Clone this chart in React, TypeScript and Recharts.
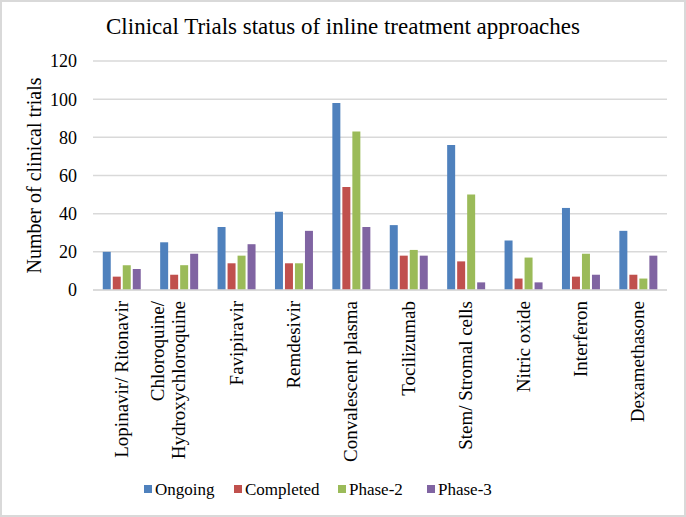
import { Bar, BarChart, CartesianGrid, Label, Legend, XAxis, YAxis } from "recharts";

const categories = [
  "Lopinavir/ Ritonavir",
  "Chloroquine/\nHydroxychloroquine",
  "Favipiravir",
  "Remdesivir",
  "Convalescent plasma",
  "Tocilizumab",
  "Stem/ Stromal cells",
  "Nitric oxide",
  "Interferon",
  "Dexamethasone",
];

const ongoing = [20, 25, 33, 41, 98, 34, 76, 26, 43, 31];
const completed = [7, 8, 14, 14, 54, 18, 15, 6, 7, 8];
const phase2 = [13, 13, 18, 14, 83, 21, 50, 17, 19, 6];
const phase3 = [11, 19, 24, 31, 33, 18, 4, 4, 8, 18];

const yTicks = [0, 20, 40, 60, 80, 100, 120];

const series = [
  { key: "ongoing", name: "Ongoing", color: "#4F81BD" },
  { key: "completed", name: "Completed", color: "#C0504D" },
  { key: "phase2", name: "Phase-2", color: "#9BBB59" },
  { key: "phase3", name: "Phase-3", color: "#8064A2" },
];

// x offsets of the legend swatches
const legendX = [0, 90, 194, 283];

const data = categories.map((name, i) => ({
  name,
  ongoing: ongoing[i],
  completed: completed[i],
  phase2: phase2[i],
  phase3: phase3[i],
}));

const FONT = '"Liberation Serif", "Times New Roman", serif';

function CategoryTick({ x, y, payload }: any) {
  const lines = String(payload.value).split("\n");
  return (
    <g transform={`translate(${x},${y})`}>
      {lines.map((line, i) => (
        <text
          key={i}
          transform="rotate(-90)"
          x={-11}
          y={6 - (lines.length - 1 - i) * 21}
          textAnchor="end"
          fontSize={19}
          fontFamily={FONT}
          fill="#000"
        >
          {line}
        </text>
      ))}
    </g>
  );
}

function LegendContent() {
  return (
    <svg width={360} height={24} style={{ display: "block" }}>
      {series.map((s, i) => (
        <g key={s.key} transform={`translate(${legendX[i]},0)`}>
          <rect x={0} y={7} width={8} height={8} fill={s.color} />
          <text x={11} y={17} fontSize={17} fontFamily={FONT} fill="#000">
            {s.name}
          </text>
        </g>
      ))}
    </svg>
  );
}

export default function App() {
  return (
    <div
      style={{
        position: "absolute",
        left: 0,
        top: 0,
        width: 686,
        height: 517,
        background: "#fff",
        border: "2px solid #d9d9d9",
        boxSizing: "border-box",
      }}
    >
      <div
        style={{
          position: "absolute",
          top: 12,
          left: -2,
          width: 686,
          textAlign: "center",
          fontFamily: FONT,
          fontSize: 23,
          color: "#000",
        }}
      >
        Clinical Trials status of inline treatment approaches
      </div>
      <div style={{ position: "absolute", left: -2, top: -2 }}>
        <BarChart
          width={686}
          height={517}
          data={data}
          margin={{ top: 61, right: 19, left: 0, bottom: 8 }}
          barCategoryGap="17%"
          barGap={2}
        >
          <CartesianGrid vertical={false} stroke="#d9d9d9" strokeWidth={1.5} />
          <XAxis
            dataKey="name"
            interval={0}
            tick={<CategoryTick />}
            tickLine={false}
            tickSize={0}
            tickMargin={0}
            height={179}
            axisLine={{ stroke: "#d9d9d9", strokeWidth: 1.5 }}
          />
          <YAxis
            domain={[0, 120]}
            ticks={yTicks}
            width={93}
            axisLine={false}
            tickLine={false}
            tickSize={0}
            tickMargin={16}
            tick={{ fill: "#000", fontSize: 18, fontFamily: FONT }}
          >
            <Label
              value="Number of clinical trials"
              angle={-90}
              position="center"
              dx={-13}
              style={{ fill: "#000", fontSize: 20, fontFamily: FONT }}
            />
          </YAxis>
          <Legend
            verticalAlign="bottom"
            align="left"
            height={40}
            content={<LegendContent />}
            wrapperStyle={{ left: 144, top: 478, width: 360 }}
          />
          {series.map((s) => (
            <Bar
              key={s.key}
              dataKey={s.key}
              name={s.name}
              fill={s.color}
              isAnimationActive={false}
            />
          ))}
        </BarChart>
      </div>
    </div>
  );
}
